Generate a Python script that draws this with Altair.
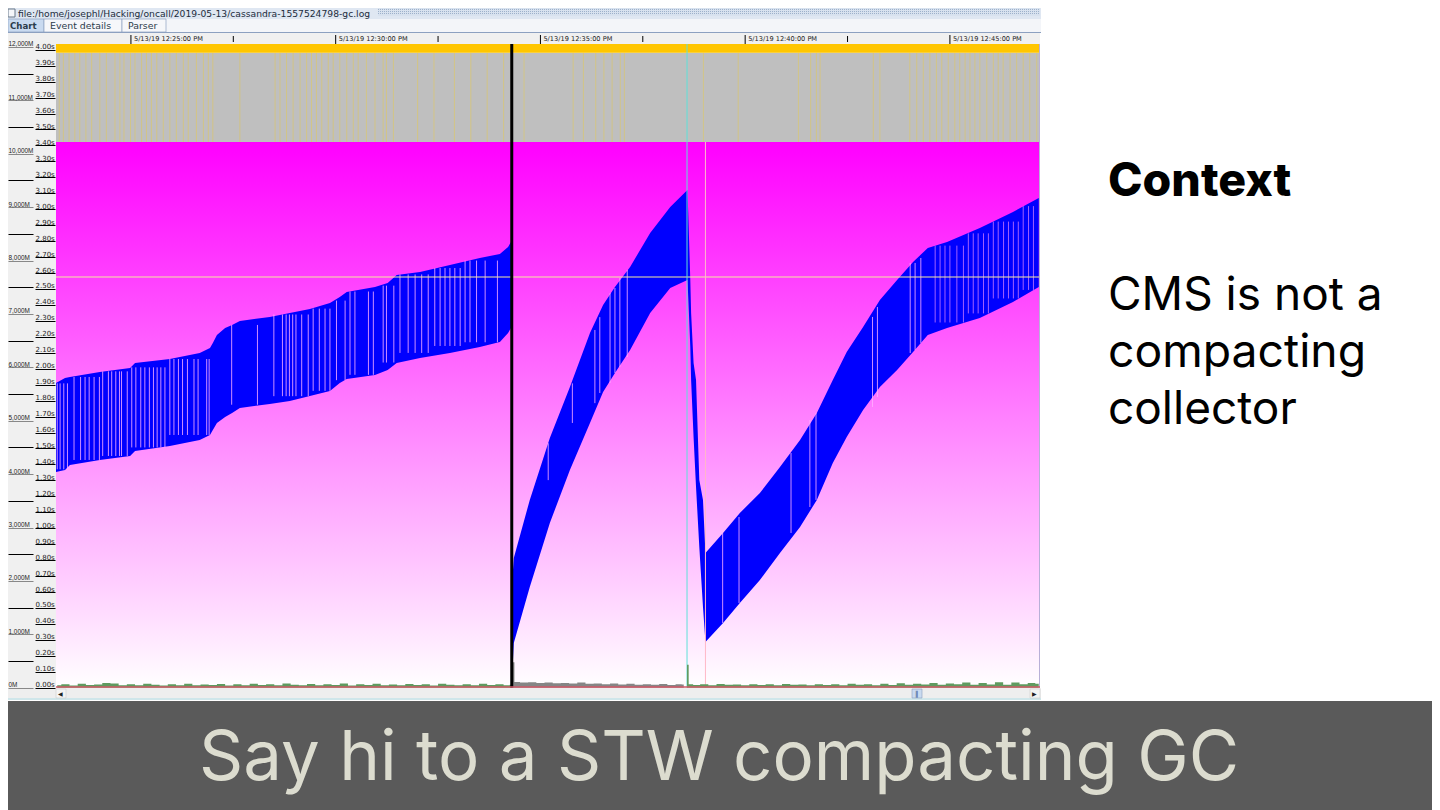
import altair as alt
import pandas as pd

# ---- heap band: minutes after 12:00, MB used after / before collection
band_t = [23.17,23.39,23.51,24.24,24.98,25.10,25.95,26.68,26.93,27.00,27.10,27.30,27.47,27.66,28.39,28.88,
          29.37,29.86,30.10,30.27,30.96,31.27,31.49,32.06,32.79,33.52,34.01,34.21,34.28,
          34.33,34.35,34.74,35.23,35.72,36.21,36.53,36.82,37.19,37.68,38.17,38.59,
          38.61,38.66,38.68,38.74,38.80,38.88,38.97,39.03,39.46,39.87,40.36,40.85,41.34,41.75,42.14,42.48,
          42.88,43.29,43.71,44.10,44.46,44.93,45.73,46.54,47.17]
band_top = [5707,5801,5820,5913,5988,6082,6156,6269,6363,6456,6606,6737,6794,6869,6944,7018,
            7093,7205,7318,7412,7505,7580,7730,7786,7917,8048,8123,8254,8348,
            2205,2429,3516,4677,5632,6644,7168,7505,7880,8517,9004,9322,
            8891,7636,7018,6082,5763,3890,3516,2523,2898,3272,3647,4134,4639,5145,5763,6288,
            6756,7262,7636,7973,8236,8348,8610,8910,9172]
band_bot = [4040,4077,4171,4265,4340,4433,4527,4639,4733,4827,4958,5070,5145,5239,5314,5370,
            5464,5557,5707,5782,5857,5951,6082,6175,6269,6381,6475,6643,6737,
            519,837,1886,3085,4077,4958,5538,5894,6325,7018,7486,7636,
            7318,6381,5763,4696,3759,2635,1511,856,1212,1586,2017,2523,3010,3516,4209,4696,
            5201,5632,5950,6288,6606,6737,6924,7224,7505]

# ---- pale gaps inside the band: (top, bottom, minutes)
gap_groups = [
    (5700,4090,[23.20,23.27,23.36,23.45]),
    (5820,4265,[23.61,23.77,23.88,23.98,24.10,24.23]),
    (5925,4340,[24.31,24.45,24.53,24.63,24.72,24.77,24.91]),
    (6000,4500,[25.02,25.12,25.24,25.34,25.45,25.55,25.64,25.73,25.83]),
    (6156,4733,[25.95,26.05,26.16,26.26,26.38,26.54,26.64,26.85,26.91]),
    (6794,5300,[27.46,28.09]),
    (6990,5460,[28.49,28.70,28.79,28.87,28.95,29.03,29.17,29.33]),
    (7100,5560,[29.45,29.60,29.74,29.86]),
    (7250,5760,[30.02,30.23]),
    (7420,5860,[30.35,30.47,30.80,30.92]),
    (7530,6090,[31.16,31.24,31.42]),
    (7740,6270,[31.57,31.77,31.94,32.10,32.26]),
    (7860,6400,[32.42,32.55,32.67,32.79,32.91,33.04]),
    (8000,6470,[33.16,33.28,33.44,33.65,33.95]),
    (4578,3888,[35.19]),(5700,4958,[35.78]),(6700,5330,[36.33]),(6940,5520,[36.45]),
    (7390,5707,[36.70]),(7486,5894,[36.82]),(7674,6007,[36.94]),(7824,6194,[37.12]),
    (2900,1212,[39.45]),(3197,1586,[39.85]),(4396,2898,[41.12]),(5014,3384,[41.58]),(5145,3516,[41.73]),
    (6944,5258,[43.11]),(7130,5445,[43.23]),(7955,6269,[44.03]),(7955,6325,[44.15]),(8048,6456,[44.29]),
    (8280,6840,[44.64,44.76,44.88,45.00,45.17,45.33]),
    (8510,7010,[45.45,45.57,45.69,45.82,45.94]),
    (8730,7290,[46.06,46.18,46.31,46.43,46.55,46.67]),
    (9020,7450,[46.79,46.92,47.04]),
]

# ---- yellow pause stripes in the upper band
stripe_t = [23.25,23.35,23.49,23.63,23.75,23.90,24.04,24.24,24.40,24.61,24.73,24.83,24.99,25.10,25.26,25.38,
            25.50,25.63,25.79,25.95,26.11,26.28,26.40,26.60,26.77,26.89,27.00,27.66,28.52,28.64,28.80,28.96,
            29.13,29.29,29.41,29.53,29.66,29.82,29.94,30.10,30.27,30.43,30.55,30.75,30.96,31.16,31.24,31.41,
            32.00,32.40,32.90,33.30,33.70,34.10,34.60,35.80,36.05,36.35,36.55,36.75,36.95,37.05,
            38.98,39.83,41.30,41.60,41.74,41.83,43.13,43.29,44.02,44.19,44.35,44.51,44.67,44.80,44.96,45.12,
            45.24,45.37,45.49,45.61,45.73,45.90,46.06,46.18,46.30,46.47,46.63,46.79,46.95,47.12]

# ---- pause series along the bottom (seconds)
pause_t = [23.2,23.4,23.6,23.8,24.0,24.2,24.4,24.6,24.8,25.0,25.2,25.4,25.6,25.8,26.0,26.2,26.4,26.6,26.8,27.0,
           27.2,27.4,27.6,27.8,28.0,28.2,28.4,28.6,28.8,29.0,29.2,29.4,29.6,29.8,30.0,30.2,30.4,30.6,30.8,31.0,
           31.2,31.4,31.6,31.8,32.0,32.2,32.4,32.6,32.8,33.0,33.2,33.4,33.6,33.8,34.0,34.2,34.3,34.33,34.4,34.6,
           34.8,35.0,35.2,35.4,35.6,35.8,36.0,36.2,36.4,36.6,36.8,37.0,37.2,37.4,37.6,37.8,38.0,38.2,38.4,38.5,
           38.58,38.66,38.8,39.0,39.2,39.4,39.6,39.8,40.0,40.2,40.4,40.6,40.8,41.0,41.2,41.4,41.6,41.8,42.0,42.2,
           42.4,42.6,42.8,43.0,43.2,43.4,43.6,43.8,44.0,44.2,44.4,44.6,44.8,45.0,45.2,45.4,45.6,45.8,46.0,46.2,
           46.4,46.6,46.8,47.0,47.17]
pause_s = [.016,.022,.014,.024,.017,.020,.030,.026,.015,.022,.016,.024,.018,.014,.021,.016,.024,.015,.020,.017,
           .023,.014,.022,.016,.025,.017,.022,.015,.026,.018,.016,.023,.015,.021,.017,.026,.014,.022,.017,.024,
           .016,.020,.015,.023,.017,.021,.014,.024,.018,.016,.022,.015,.024,.017,.021,.016,.018,.160,.036,.032,
           .034,.030,.033,.028,.030,.026,.032,.024,.027,.022,.026,.020,.024,.018,.022,.019,.023,.017,.021,.020,
           .144,.022,.017,.021,.016,.023,.018,.020,.016,.022,.017,.021,.015,.023,.018,.020,.016,.022,.017,.021,
           .016,.024,.018,.022,.016,.025,.017,.028,.018,.024,.020,.030,.018,.027,.022,.032,.018,.030,.020,.034,
           .019,.032,.021,.030,.024]
pause_part = ["a"] * 57 + ["b"] * 23 + ["c"] * 45

# ---- axes
heap_ticks = [0,500,1000,1500,2000,2500,3000,3500,4000,4500,5000,5500,6000,6500,7000,7500,8000,8500,9000,9500,
              10000,10500,11000,11500,12000]
sec_ticks = [0.0,0.1,0.2,0.3,0.4,0.5,0.6,0.7,0.8,0.9,1.0,1.1,1.2,1.3,1.4,1.5,1.6,1.7,1.8,1.9,2.0,
             2.1,2.2,2.3,2.4,2.5,2.6,2.7,2.8,2.9,3.0,3.1,3.2,3.3,3.4,3.5,3.6,3.7,3.8,3.9,4.0]
time_major = [25,30,35,40,45]
time_major_labels = ["5/13/19 12:25:00 PM","5/13/19 12:30:00 PM","5/13/19 12:35:00 PM",
                     "5/13/19 12:40:00 PM","5/13/19 12:45:00 PM"]
time_minor = [27.5,32.5,37.5,42.5]

T0, T1 = 23.17, 47.20
H1 = 12056
xs = alt.Scale(domain=[T0, T1], range=[48, 1032], nice=False, zero=False)
hs = alt.Scale(domain=[0, H1], range=[679.7, 36], nice=False, zero=False)
ss = alt.Scale(domain=[0, 4.036], range=[679.7, 36], nice=False, zero=False)
UI = "DejaVu Sans"
AXF = "Liberation Sans"
SLIDE = "Inter"
BLANK = alt.Data(values=[{"k": 0}])


def panel(x0, y0, x1, y1, color, **kw):
    """Window chrome given in page pixels; the chart sits 8px inside the page."""
    return alt.Chart(BLANK).mark_rect(color=color, **kw).encode(
        x=alt.value(x0 - 8), x2=alt.value(x1 - 8), y=alt.value(y0 - 8), y2=alt.value(y1 - 8))


def label(text, x, y, font=UI, size=9, color="#222222", weight="normal", align="left"):
    return alt.Chart(BLANK).mark_text(font=font, fontSize=size, color=color, fontWeight=weight,
                                      align=align, baseline="alphabetic").encode(
        x=alt.value(x - 8), y=alt.value(y - 8), text=alt.value(text))


def hline(x0, x1, y, color, **kw):
    return alt.Chart(BLANK).mark_rule(color=color, **kw).encode(
        x=alt.value(x0 - 8), x2=alt.value(x1 - 8), y=alt.value(y - 8))


def region(t0, t1, h0, h1, **kw):
    d = pd.DataFrame({"t": [t0], "t1": [t1], "h": [h0], "h1": [h1]})
    return alt.Chart(d).mark_rect(**kw).encode(
        x=alt.X("t:Q", scale=xs, axis=None), x2="t1:Q",
        y=alt.Y("h:Q", scale=hs, axis=None), y2="h1:Q")


def v_rules(ts, h0, h1, **kw):
    d = pd.DataFrame({"t": ts, "h": h0, "h1": h1})
    return alt.Chart(d).mark_rule(**kw).encode(
        x=alt.X("t:Q", scale=xs, axis=None),
        y=alt.Y("h:Q", scale=hs, axis=None), y2="h1:Q")


def time_ticks(ts, y0, y1):
    return alt.Chart(pd.DataFrame({"t": ts})).mark_rule(color="#000000", strokeWidth=1).encode(
        x=alt.X("t:Q", scale=xs, axis=None), y=alt.value(y0 - 8), y2=alt.value(y1 - 8))


layers = [
    # window chrome
    panel(8, 8, 1041, 19, "#dfe7f2"),
    panel(378, 8, 1040, 16, "#d8e2ef"),
    hline(378, 1040, 9.5, "#9db1cb", strokeDash=[1, 1]),
    hline(378, 1040, 11.5, "#9db1cb", strokeDash=[1, 1]),
    hline(378, 1040, 13.5, "#9db1cb", strokeDash=[1, 1]),
    panel(8, 19, 1041, 32, "#f3f5f9"),
    panel(8, 32, 1041, 33, "#8ca0c0"),
    panel(8, 33, 1040, 44, "#f0f0f0"),
    panel(8, 44, 56, 700, "#f0f0f0"),
    panel(8, 688, 1041, 698, "#eeeeee"),
    panel(8, 698, 1041, 700, "#cfe6ea"),
    panel(8, 19, 44, 32, "#c9daf0", stroke="#8ca0c0", strokeWidth=0.7),
    panel(44, 19, 122, 32, "#f6f7fa", stroke="#8ca0c0", strokeWidth=0.7),
    panel(122, 19, 166, 32, "#f6f7fa", stroke="#8ca0c0", strokeWidth=0.7),
    panel(8, 9, 15, 17, "#f4f6fa", stroke="#667788", strokeWidth=1),
    # plot backgrounds
    region(T0, T1, 0, 10221, color=alt.LinearGradient(
        gradient="linear", x1=0, x2=0, y1=0, y2=1,
        stops=[alt.GradientStop(offset=0, color="#ff00ff"), alt.GradientStop(offset=1, color="#ffffff")])),
    region(T0, T1, 10221, 11890, color="#bfbfbf"),
    v_rules(stripe_t, 10221, 11890, color="#e0c860", opacity=0.6, strokeWidth=1),
    region(T0, T1, 11890, H1, color="#ffc600"),
    # time ticks and labels along the top
    time_ticks(time_major, 35, 44),
    time_ticks(time_minor, 36, 42),
    alt.Chart(pd.DataFrame({"t": time_major, "txt": time_major_labels})).mark_text(
        font=UI, fontSize=6.6, color="#222222", align="left", baseline="middle", dx=3).encode(
        x=alt.X("t:Q", scale=xs, axis=None), y=alt.value(31), text="txt:N"),
    # heap band
    alt.Chart(pd.DataFrame({"t": band_t, "top": band_top, "bot": band_bot})).mark_area(color="#0000ff").encode(
        x=alt.X("t:Q", scale=xs, axis=None),
        y=alt.Y("top:Q", scale=hs, stack=None, axis=alt.Axis(
            orient="left", offset=-25, values=heap_ticks, tickSize=25, domain=False, grid=False, title=None,
            labelFont=AXF, labelFontSize=6.4, labelColor="#222222", labelAlign="left", labelBaseline="bottom",
            labelPadding=0, zindex=1,
            tickColor={"condition": {"test": "datum.value % 1000 == 0", "value": "#888888"}, "value": "#000000"},
            labelExpr="datum.value % 1000 == 0 ? format(datum.value, ',') + 'M' : ''")),
        y2="bot:Q"),
]

for top, bot, ts in gap_groups:
    pale = ts[0] < 44.5
    layers.append(v_rules(ts, top, bot, color="#ffb0ff" if pale else "#c878ff", opacity=0.8, strokeWidth=1))

layers += [
    # markers
    hline(56, 1040, 277, "#f4eca0", strokeWidth=1),
    v_rules([38.58], 0, H1, color="#60e0d8", strokeWidth=1),
    v_rules([39.03], 0, 10221, color="#ffb8c8", strokeWidth=1),
    panel(1039, 44, 1040, 688, "#b8b0d8"),
    # pause series on its own scale
    alt.Chart(pd.DataFrame({"t": pause_t, "s": pause_s, "part": pause_part})).mark_area(interpolate="step").encode(
        x=alt.X("t:Q", scale=xs, axis=None),
        y=alt.Y("s:Q", scale=ss, stack=None, axis=alt.Axis(
            orient="left", offset=-47, values=sec_ticks, tickSize=20, domain=False, grid=False, title=None,
            labelFont=UI, labelFontSize=7, labelColor="#222222", labelAlign="left", labelBaseline="bottom",
            labelPadding=0, tickColor="#000000", zindex=1,
            labelExpr="format(datum.value, '.2f') + 's'")),
        color=alt.Color("part:N", legend=None,
                        scale=alt.Scale(domain=["a", "b", "c"], range=["#5f9a5f", "#858585", "#5f9a5f"])),
        detail="part:N"),
    v_rules([34.30], 0, H1, color="#000000", strokeWidth=3),
    hline(56, 1040, 687, "#d05868", strokeWidth=1.5),
    # scrollbar
    panel(56, 689, 66, 698, "#f4f4f4", stroke="#c4c4c4", strokeWidth=0.5),
    panel(1030, 689, 1040, 698, "#f4f4f4", stroke="#c4c4c4", strokeWidth=0.5),
    panel(912, 689, 922, 698, "#c9daf0", stroke="#8ca0c0", strokeWidth=0.6),
    label("◀", 58, 696, size=6),
    label("▶", 1032, 696, size=6),
    label("‖", 915, 696, size=7, color="#335588"),
    # window text
    label("file:/home/josephl/Hacking/oncall/2019-05-13/cassandra-1557524798-gc.log", 18, 17, size=9.2, color="#1c2c3c"),
    label("Chart", 10, 29, size=8.6, weight="bold", color="#2c3c4c"),
    label("Event details", 50, 29, size=9.4, color="#2c3c4c"),
    label("Parser", 128, 29, size=9.4, color="#2c3c4c"),
    # slide text
    label("Context", 1108, 196, font=SLIDE, size=46.5, color="#000000", weight=800),
    label("CMS is not a", 1108, 310, font=SLIDE, size=46, color="#000000"),
    label("compacting", 1108, 367, font=SLIDE, size=46.3, color="#000000"),
    label("collector", 1108, 424, font=SLIDE, size=46, color="#000000"),
    # banner
    panel(8, 701, 1432, 810, "#5a5a5a"),
    label("Say hi to a STW compacting GC", 719, 780, font=SLIDE, size=69, color="#dcdccf", align="center"),
]

chart = alt.layer(*layers).resolve_scale(y="independent").properties(
    width=1424, height=802, padding=0, autosize="none",
).configure_view(stroke=None)

chart.save("out.html", embed_options={"renderer": "svg", "actions": False})
